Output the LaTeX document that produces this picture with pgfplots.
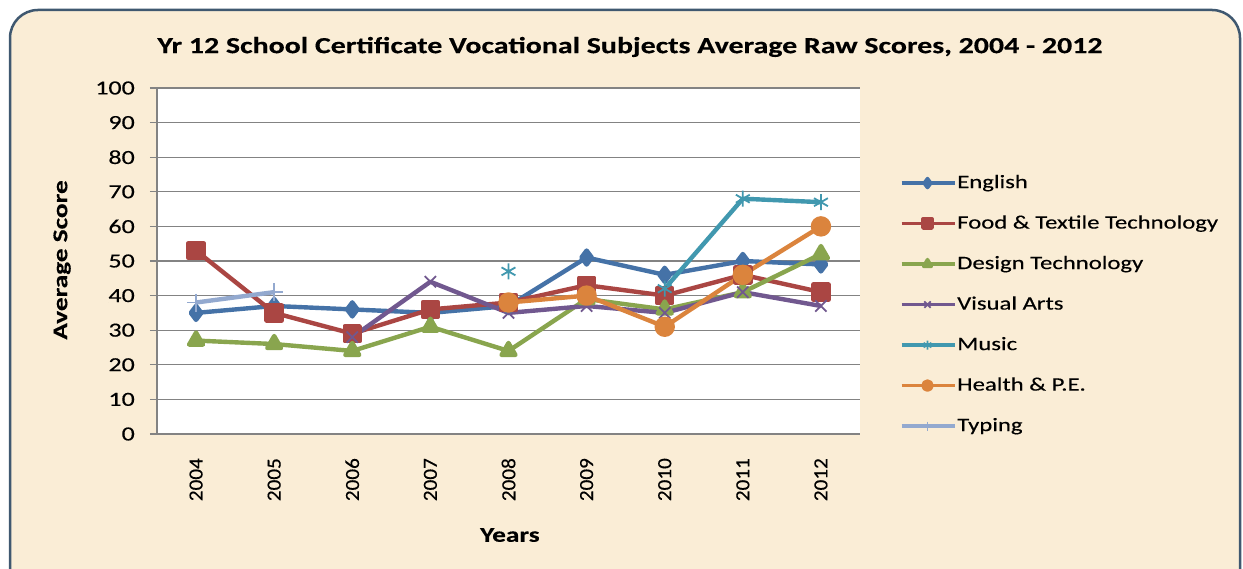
\documentclass[border=0pt]{standalone}
\usepackage{pgfplots}
\pgfplotsset{compat=1.18}
\usepackage{fontspec}
\setmainfont{Carlito}[FakeStretch=1.3, FakeBold=0.3]
\newfontfamily\tickfont{Carlito}[FakeStretch=1.3, FakeBold=0.3]
\newfontfamily\xtickfont{Carlito}[FakeStretch=1.06, FakeBold=0.3]
\definecolor{bgc}{HTML}{FAEDD6}
\definecolor{brd}{HTML}{3F5870}
\definecolor{gridc}{HTML}{838383}
\definecolor{cEng}{HTML}{4572A7}
\definecolor{cFood}{HTML}{AA4643}
\definecolor{cDes}{HTML}{89A54E}
\definecolor{cVis}{HTML}{71588F}
\definecolor{cMus}{HTML}{4198AF}
\definecolor{cHea}{HTML}{DB843D}
\definecolor{cTyp}{HTML}{93A9CF}
\begin{document}
\begin{tikzpicture}[x=1pt,y=1pt]
\useasboundingbox (0,0) rectangle (1243,569);
\fill[white] (0,0) rectangle (1243,569);
\draw[brd, line width=2.5pt, fill=bgc, rounded corners=28pt] (10,-40) rectangle (1240,559);
\node[font=\fontsize{23}{27}\selectfont\bfseries] at (630,522) {Yr 12 School Certificate Vocational Subjects Average Raw Scores, 2004 - 2012};
\begin{axis}[
  at={(157pt,135pt)}, anchor=south west,
  scale only axis, width=703pt, height=346pt,
  axis background/.style={fill=white},
  xmin=-0.5, xmax=8.5, ymin=0, ymax=100,
  xtick={0,...,8},
  xticklabels={2004,2005,2006,2007,2008,2009,2010,2011,2012},
  ytick={0,10,...,100},
  axis x line*=bottom, axis y line*=left,
  axis line style={gridc, line width=1.3pt, -},
  ymajorgrids, grid style={gridc, line width=1.3pt},
  x tick style={draw=none},
  y tick style={gridc, line width=1.3pt},
  tick align=outside, major tick length=7pt,
  yticklabel style={font=\tickfont\fontsize{20}{22}\selectfont, inner sep=0pt},
  yticklabel shift=15pt,
  xticklabel style={font=\xtickfont\fontsize{20}{22}\selectfont, rotate=90, anchor=east, inner sep=0pt},
  xticklabel shift=17pt,
  /pgf/number format/assume math mode=true,
  xlabel={Years}, ylabel={Average Score},
  xlabel style={font=\fontsize{21}{24}\selectfont\bfseries, at={(axis description cs:0.502,-0.292)}, anchor=center},
  ylabel style={font=\fontsize{21}{24}\selectfont\bfseries, at={(axis description cs:-0.135,0.503)}, anchor=center, rotate=0},
  unbounded coords=jump,
  every axis plot/.append style={line width=4.4pt, line join=round},
  legend style={at={(axis description cs:1.052,0.374)}, anchor=west, draw=none, fill=none,
    font=\fontsize{19}{22}\selectfont, row sep=20.5pt,
    nodes={inner sep=1pt, text height=14pt, text depth=4pt}},
  legend cell align=left,
  legend image code/.code={\draw[#1, line width=3.5pt, mark repeat=2, mark phase=2, /tikz/mark size=4.5pt] plot coordinates {(0pt,0pt) (26pt,0pt) (53pt,0pt)};},
]
\addplot[cEng, mark=diamond*, mark size=7pt, mark options={solid}] coordinates {(0,35)(1,37)(2,36)(3,35)(4,37)(5,51)(6,46)(7,50)(8,49)};
\addlegendentry{English}
\addplot[cFood, mark=square*, mark size=7.5pt] coordinates {(0,53)(1,35)(2,29)(3,36)(4,38)(5,43)(6,40)(7,46)(8,41)};
\addlegendentry{Food \& Textile Technology}
\addplot[cDes, mark=triangle*, mark size=8pt] coordinates {(0,27)(1,26)(2,24)(3,31)(4,24)(5,39)(6,36)(7,41)(8,52)};
\addlegendentry{Design Technology}
\addplot[cVis, mark=x, mark size=8pt, mark options={line width=1.8pt}] coordinates {(0,nan)(1,nan)(2,28)(3,44)(4,35)(5,37)(6,35)(7,41)(8,37)};
\addlegendentry{Visual Arts}
\addplot[cMus, mark=asterisk, mark size=8pt, mark options={line width=1.8pt}] coordinates {(0,nan)(1,nan)(2,nan)(3,nan)(4,47)(5,nan)(6,42)(7,68)(8,67)};
\addlegendentry{Music}
\addplot[cHea, mark=*, mark size=8pt] coordinates {(0,nan)(1,nan)(2,nan)(3,nan)(4,38)(5,40)(6,31)(7,46)(8,60)};
\addlegendentry{Health \& P.E.}
\addplot[cTyp, mark=+, mark size=9pt, mark options={line width=1.8pt}] coordinates {(0,38)(1,41)(2,nan)(3,nan)(4,nan)(5,nan)(6,nan)(7,nan)(8,nan)};
\addlegendentry{Typing}
\end{axis}
\end{tikzpicture}
\end{document}
